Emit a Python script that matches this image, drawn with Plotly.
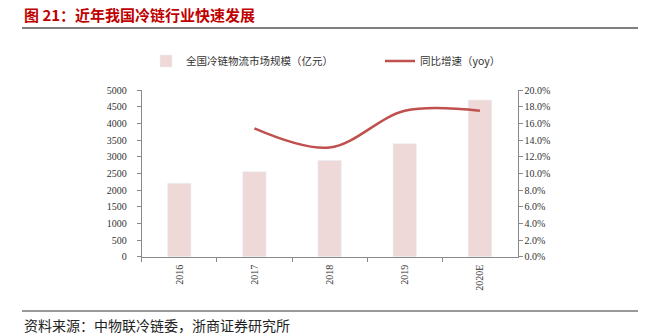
import plotly.graph_objects as go

categories = ["2016", "2017", "2018", "2019", "2020E"]
market_size = [2201, 2550, 2886, 3391, 4700]
growth_cats = ["2017", "2018", "2019", "2020E"]
growth = [15.4, 13.1, 17.5, 17.5]
left_ticks = [0, 500, 1000, 1500, 2000, 2500, 3000, 3500, 4000, 4500, 5000]
right_ticks = [0, 2, 4, 6, 8, 10, 12, 14, 16, 18, 20]
right_labels = ["%.1f%%" % v for v in right_ticks]

W, H = 666, 336
serif = "Liberation Serif, Noto Serif CJK SC, Noto Sans CJK SC, serif"
cjk = "Noto Sans CJK SC, sans-serif"

fig = go.Figure()
fig.add_trace(go.Bar(
    x=categories, y=market_size, name="全国冷链物流市场规模（亿元）",
    marker=dict(color="#EFD9D8"), width=0.31, yaxis="y", legend="legend",
))
fig.add_trace(go.Scatter(
    x=growth_cats, y=growth, name="同比增速（yoy）", mode="lines",
    line=dict(color="#C0504D", width=2.5, shape="spline", smoothing=1.0),
    yaxis="y2", legend="legend2",
))

x0, x1 = 141.7 / W, 517.5 / W
y0, y1 = (H - 256.7) / H, (H - 90) / H
legfont = dict(family=cjk, size=10.5, color="#333")

fig.update_layout(
    width=W, height=H,
    margin=dict(l=0, r=0, t=0, b=0, autoexpand=False),
    paper_bgcolor="white", plot_bgcolor="white",
    showlegend=True,
    legend=dict(x=146 / W, y=(H - 61) / H, yanchor="middle", xanchor="left",
                font=legfont, itemwidth=30, bgcolor="rgba(0,0,0,0)"),
    legend2=dict(x=380 / W, y=(H - 61) / H, yanchor="middle", xanchor="left",
                 font=legfont, itemwidth=30, bgcolor="rgba(0,0,0,0)"),
    xaxis=dict(domain=[x0, x1], type="category", showline=True, linecolor="#898989", linewidth=1,
               ticks="outside", tickson="boundaries", ticklen=4, tickcolor="#898989",
               tickangle=-90, tickfont=dict(family=serif, size=10, color="#333"), showgrid=False,
               automargin=False, ticklabelstandoff=3),
    yaxis=dict(domain=[y0, y1], range=[0, 5000], tickvals=left_ticks, showline=True,
               linecolor="#898989", ticks="outside", ticklen=4, tickcolor="#898989",
               tickfont=dict(family=serif, size=10, color="#333"), showgrid=False, zeroline=False,
               automargin=False, ticklabelstandoff=8),
    yaxis2=dict(overlaying="y", side="right", anchor="x", range=[0, 20], tickvals=right_ticks,
                ticktext=right_labels, showline=True, linecolor="#898989", ticks="outside",
                ticklen=4, tickcolor="#898989", tickfont=dict(family=serif, size=10, color="#333"),
                showgrid=False, zeroline=False, automargin=False),
)

fig.add_annotation(text="<b>图 21：近年我国冷链行业快速发展</b>", xref="paper", yref="paper",
                   x=22 / W, y=(H - 15) / H, xanchor="left", yanchor="middle", showarrow=False,
                   font=dict(family=cjk, size=15, color="#C00000"))
fig.add_annotation(text="资料来源：中物联冷链委，浙商证券研究所", xref="paper", yref="paper",
                   x=22 / W, y=(H - 325) / H, xanchor="left", yanchor="middle", showarrow=False,
                   font=dict(family=cjk, size=14, color="#222"))
fig.add_shape(type="line", xref="paper", yref="paper", x0=22 / W, x1=638 / W,
              y0=(H - 28) / H, y1=(H - 28) / H, line=dict(color="#555", width=1.5))
fig.add_shape(type="line", xref="paper", yref="paper", x0=22 / W, x1=638 / W,
              y0=(H - 311) / H, y1=(H - 311) / H, line=dict(color="#777", width=1.5))

fig.write_html("out.html")
